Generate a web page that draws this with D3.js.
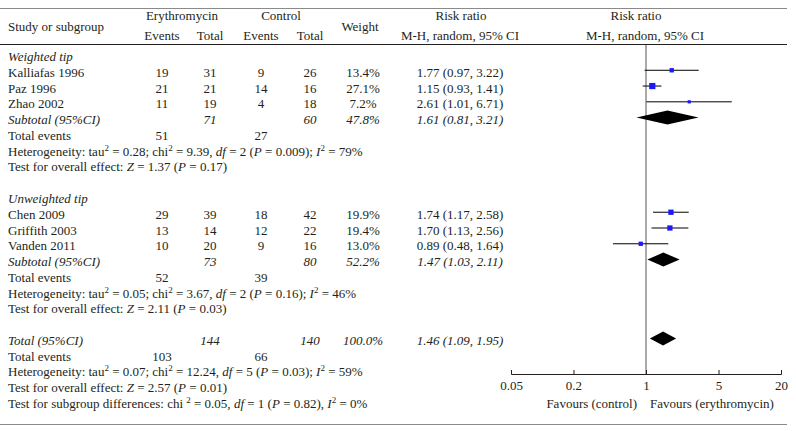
<!DOCTYPE html>
<html>
<head>
<meta charset="utf-8">
<script src="https://cdn.jsdelivr.net/npm/d3@7"></script>
<style>
  body { margin: 0; background: #fff; }
  svg text { font-family: "Liberation Serif", "DejaVu Serif", serif; font-size: 13px; fill: #231f20; }
</style>
</head>
<body>
<svg id="chart" width="796" height="431"></svg>
<script>
// Study data
const studyNames = ['Kalliafas 1996', 'Paz 1996', 'Zhao 2002', 'Chen 2009', 'Griffith 2003', 'Vanden 2011'];
const studyGroup = [0, 0, 0, 1, 1, 1];
const eryEvents = [19, 21, 11, 29, 13, 10];
const eryTotal = [31, 21, 19, 39, 14, 20];
const ctlEvents = [9, 14, 4, 18, 12, 9];
const ctlTotal = [26, 16, 18, 42, 22, 16];
const weights = [13.4, 27.1, 7.2, 19.9, 19.4, 13.0];
const rr = [1.77, 1.15, 2.61, 1.74, 1.70, 0.89];
const rrLow = [0.97, 0.93, 1.01, 1.17, 1.13, 0.48];
const rrHigh = [3.22, 1.41, 6.71, 2.58, 2.56, 1.64];

// Subgroups
const groupNames = ['Weighted tip', 'Unweighted tip'];
const subEryTotal = [71, 73];
const subCtlTotal = [60, 80];
const subWeight = [47.8, 52.2];
const subRR = [1.61, 1.47];
const subLow = [0.81, 1.03];
const subHigh = [3.21, 2.11];
const subEryEvents = [51, 52];
const subCtlEvents = [27, 39];
const subHetero = [
    'Heterogeneity: tau^2^ = 0.28; chi^2^ = 9.39, *df* = 2 (*P* = 0.009); *I*^2^ = 79%',
    'Heterogeneity: tau^2^ = 0.05; chi^2^ = 3.67, *df* = 2 (*P* = 0.16); *I*^2^ = 46%'
];
const subTest = [
    'Test for overall effect:  *Z* = 1.37 (*P* = 0.17)',
    'Test for overall effect:  *Z* = 2.11 (*P* = 0.03)'
];

// Overall
const totEryTotal = 144, totCtlTotal = 140, totWeight = 100.0;
const totRR = 1.46, totLow = 1.09, totHigh = 1.95;
const totEryEvents = 103, totCtlEvents = 66;
const totFooter = [
    'Heterogeneity: tau^2^ = 0.07; chi^2^ = 12.24, *df* = 5 (*P* = 0.03); *I*^2^ = 59%',
    'Test for overall effect:  *Z* = 2.57 (*P* = 0.01)',
    'Test for subgroup differences: chi ^2^ = 0.05, *df* = 1 (*P* = 0.82), *I*^2^ = 0%'
];

const axisTicks = [0.05, 0.2, 1, 5, 20];
const axisLabels = ['Favours (control)', 'Favours (erythromycin)'];

// Layout
const col = { label: 8, eE: 162, eT: 210, cE: 261, cT: 310, w: 363, rr: 460 };
const svg = d3.select('#chart');
const rowY = d3.scaleLinear().domain([0, 22]).range([61, 408]);
const x = d3.scaleLog().domain([0.05, 20]).range([511, 781]);
const boxSize = d3.scaleSqrt().domain([0, 27.1]).range([0, 6.2]);
const axisY = 374;
const fmtRR = (v, lo, hi) => [v, lo, hi].map(d => d.toFixed(2));

// rich text: *italic*, ^superscript^
function rich(sel, str) {
    const parts = str.split(/(\*[^*]+\*|\^[^^]+\^)/).filter(s => s.length);
    let raised = false;
    parts.forEach(p => {
        const t = sel.append('tspan');
        if (p.startsWith('*')) {
            t.style('font-style', 'italic').text(p.slice(1, -1));
            if (raised) { t.attr('dy', 5); raised = false; }
        } else if (p.startsWith('^')) {
            t.attr('dy', -5).style('font-size', '9px').text(p.slice(1, -1));
            raised = true;
        } else {
            t.text(p);
            if (raised) { t.attr('dy', 5); raised = false; }
        }
    });
    return sel;
}

function txt(xp, y, s, anchor, italic) {
    const t = svg.append('text').attr('x', xp).attr('y', y)
        .attr('text-anchor', anchor || 'start');
    if (italic) t.style('font-style', 'italic');
    return rich(t, s);
}

// Rules
svg.append('line').attr('x1', 0).attr('x2', 787).attr('y1', 8.5).attr('y2', 8.5)
    .attr('stroke', '#8a8a8a').attr('stroke-width', 1);
svg.append('line').attr('x1', 0).attr('x2', 787).attr('y1', 44.5).attr('y2', 44.5)
    .attr('stroke', '#231f20').attr('stroke-width', 1.2);
svg.append('line').attr('x1', 0).attr('x2', 787).attr('y1', 424.5).attr('y2', 424.5)
    .attr('stroke', '#8a8a8a').attr('stroke-width', 1);

// Header
txt(col.label, 31, 'Study or subgroup');
txt(182, 20, 'Erythromycin', 'middle');
txt(281, 20, 'Control', 'middle');
txt(col.w - 3, 31, 'Weight', 'middle');
txt(461, 20, 'Risk ratio', 'middle');
txt(636, 20, 'Risk ratio', 'middle');
txt(col.eE, 40, 'Events', 'middle');
txt(col.eT, 40, 'Total', 'middle');
txt(col.cE, 40, 'Events', 'middle');
txt(col.cT, 40, 'Total', 'middle');
txt(col.rr, 40, 'M-H, random, 95% CI', 'middle');
txt(645, 40, 'M-H, random, 95% CI', 'middle');

// Null line
svg.append('line').attr('x1', x(1)).attr('x2', x(1)).attr('y1', 45).attr('y2', axisY)
    .attr('stroke', '#555').attr('stroke-width', 1);

function diamond(row, v, lo, hi) {
    const cy = rowY(row) - 6.5;
    svg.append('path')
        .attr('d', `M${x(lo)},${cy}L${x(v)},${cy - 7}L${x(hi)},${cy}L${x(v)},${cy + 7}Z`)
        .attr('fill', '#000');
}

// Groups
const groupStart = [0, 9];
groupNames.forEach((g, gi) => {
    let r = groupStart[gi];
    txt(col.label, rowY(r), g, 'start', true);
    studyNames.forEach((name, i) => {
        if (studyGroup[i] !== gi) return;
        r++;
        const y = rowY(r);
        txt(col.label, y, name);
        txt(col.eE, y, String(eryEvents[i]), 'middle');
        txt(col.eT, y, String(eryTotal[i]), 'middle');
        txt(col.cE, y, String(ctlEvents[i]), 'middle');
        txt(col.cT, y, String(ctlTotal[i]), 'middle');
        txt(col.w, y, weights[i].toFixed(1) + '%', 'middle');
        const f = fmtRR(rr[i], rrLow[i], rrHigh[i]);
        txt(col.rr, y, `${f[0]} (${f[1]}, ${f[2]})`, 'middle');
        const cy = y - 6.5;
        svg.append('line').attr('x1', x(rrLow[i])).attr('x2', x(rrHigh[i]))
            .attr('y1', cy).attr('y2', cy).attr('stroke', '#000').attr('stroke-width', 1);
        const s = boxSize(weights[i]);
        svg.append('rect').attr('x', x(rr[i]) - s / 2).attr('y', cy - s / 2)
            .attr('width', s).attr('height', s).attr('fill', '#1a1aff');
    });
    r++;
    let y = rowY(r);
    txt(col.label, y, 'Subtotal (95%CI)', 'start', true);
    txt(col.eT, y, String(subEryTotal[gi]), 'middle', true);
    txt(col.cT, y, String(subCtlTotal[gi]), 'middle', true);
    txt(col.w, y, subWeight[gi].toFixed(1) + '%', 'middle', true);
    const f = fmtRR(subRR[gi], subLow[gi], subHigh[gi]);
    txt(col.rr, y, `${f[0]} (${f[1]}, ${f[2]})`, 'middle', true);
    diamond(r, subRR[gi], subLow[gi], subHigh[gi]);
    r++;
    y = rowY(r);
    txt(col.label, y, 'Total events');
    txt(col.eE, y, String(subEryEvents[gi]), 'middle');
    txt(col.cE, y, String(subCtlEvents[gi]), 'middle');
    txt(col.label, rowY(r + 1), subHetero[gi]);
    txt(col.label, rowY(r + 2), subTest[gi]);
});

// Overall
let r = 18;
let y = rowY(r);
txt(col.label, y, 'Total (95%CI)', 'start', true);
txt(col.eT, y, String(totEryTotal), 'middle', true);
txt(col.cT, y, String(totCtlTotal), 'middle', true);
txt(col.w, y, totWeight.toFixed(1) + '%', 'middle', true);
const ft = fmtRR(totRR, totLow, totHigh);
txt(col.rr, y, `${ft[0]} (${ft[1]}, ${ft[2]})`, 'middle', true);
diamond(r, totRR, totLow, totHigh);
y = rowY(r + 1);
txt(col.label, y, 'Total events');
txt(col.eE, y, String(totEryEvents), 'middle');
txt(col.cE, y, String(totCtlEvents), 'middle');
totFooter.forEach((s, i) => txt(col.label, rowY(r + 2 + i), s));

// Axis
const ax = svg.append('g').attr('transform', `translate(0,${axisY})`)
    .call(d3.axisBottom(x).tickValues(axisTicks).tickFormat(d => String(d))
        .tickSize(-4).tickPadding(7));
ax.selectAll('path, line').attr('stroke', '#231f20');
ax.selectAll('text').style('font-family', '"Liberation Serif", serif').style('font-size', '13px')
    .attr('fill', '#231f20');

txt(x(1) - 9, rowY(22), axisLabels[0], 'end');
txt(x(1) + 4, rowY(22), axisLabels[1], 'start');
</script>
</body>
</html>
